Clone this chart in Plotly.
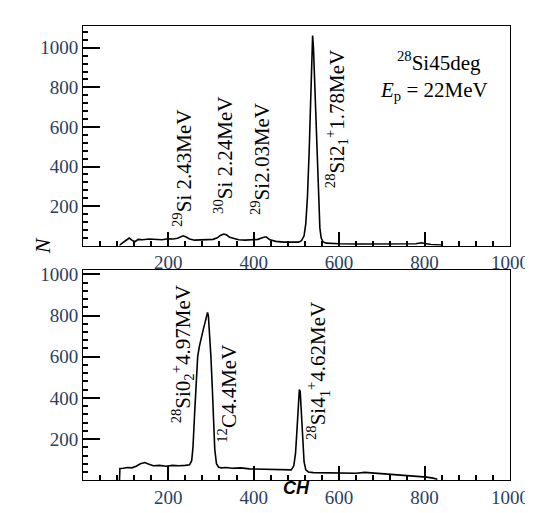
import plotly.graph_objects as go
from plotly.subplots import make_subplots

# ---- data ----
ch_top = [86, 90, 100, 109, 115, 122, 130, 140, 155, 170, 185, 200, 212, 222, 230, 235, 242, 250, 262, 275,
          290, 305, 315, 322, 330, 336, 344, 354, 365, 380, 395, 410, 420, 429, 438, 452, 470, 490, 505, 512,
          518, 522, 526, 530, 533, 536, 538, 540, 543, 546, 549, 552, 555, 558, 562, 570, 600, 650, 700, 750,
          780, 792, 800, 815, 840]
n_top = [0, 10, 25, 39, 28, 20, 32, 30, 34, 33, 30, 35, 34, 38, 45, 50, 44, 34, 28, 30,
         33, 32, 40, 52, 59, 55, 42, 35, 30, 28, 30, 32, 40, 45, 30, 22, 18, 18, 18, 25,
         50, 110, 250, 480, 720, 960, 1062, 1000, 820, 600, 380, 200, 90, 40, 20, 13, 10, 9, 8, 8,
         10, 15, 12, 6, 3]

ch_bot = [86, 87, 95, 105, 115, 125, 135, 145, 155, 165, 180, 195, 210, 225, 240, 250, 255, 258, 262, 266,
          269, 273, 278, 283, 288, 292, 294, 297, 300, 303, 306, 309, 313, 318, 325, 335, 350, 370, 390, 410,
          430, 450, 470, 482, 488, 494, 498, 501, 504, 507, 509, 512, 515, 518, 522, 528, 540, 560, 600, 640,
          660, 700, 740, 760, 775, 790, 805, 820, 830]
n_bot = [0, 57, 58, 62, 60, 68, 80, 86, 78, 70, 72, 68, 72, 70, 72, 75, 95, 160, 330, 500,
         600, 650, 700, 740, 780, 815, 800, 720, 600, 460, 300, 150, 80, 63, 60, 62, 58, 60, 55, 54,
         52, 50, 48, 50, 50, 70, 130, 230, 360, 440, 430, 320, 180, 90, 50, 40, 37, 36, 35, 34,
         38, 32, 28, 25, 22, 20, 15, 10, 5]

major_step = 200
minor_step = 40

SERIF = "Liberation Serif"

fig = make_subplots(rows=2, cols=1, vertical_spacing=0.05)
fig.add_trace(go.Scatter(x=ch_top, y=n_top, mode="lines", line=dict(color="black", width=1.6)),
              row=1, col=1)
fig.add_trace(go.Scatter(x=ch_bot, y=n_bot, mode="lines", line=dict(color="black", width=1.6)),
              row=2, col=1)

for ax in ["xaxis", "xaxis2", "yaxis", "yaxis2"]:
    is_x = ax.startswith("x")
    fig.layout[ax].update(
        ticks="inside", ticklen=14 if is_x else 17, tickcolor="black", tickwidth=2,
        showline=True, mirror=True, linecolor="black",
        tickmode="linear", tick0=0, dtick=major_step,
        tickfont=dict(family=SERIF, size=19),
        minor=dict(ticks="inside", ticklen=5, dtick=minor_step),
    )
fig.layout.xaxis.range = [0.6, 1000]
fig.layout.xaxis2.range = [0.6, 1000]
fig.layout.yaxis.update(range=[1, 1110], domain=[0.5165, 1.0])
fig.layout.yaxis2.update(range=[1, 1020], domain=[0.0, 0.462])

ann_font = dict(family=SERIF, size=21, color="black")
labels = [
    ("x", "y", 232, 392, "<sup>29</sup>Si 2.43MeV"),
    ("x", "y", 328, 458, "<sup>30</sup>Si 2.24MeV"),
    ("x", "y", 415, 438, "<sup>29</sup>Si2.03MeV"),
    ("x", "y", 593, 640, "<sup>28</sup>Si2<sub>1</sub><sup>+</sup>1.78MeV"),
    ("x2", "y2", 234, 610, "<sup>28</sup>Si0<sub>2</sub><sup>+</sup>4.97MeV"),
    ("x2", "y2", 340, 420, "<sup>12</sup>C4.4MeV"),
    ("x2", "y2", 550, 529, "<sup>28</sup>Si4<sub>1</sub><sup>+</sup>4.62MeV"),
]
for xr, yr, xv, yv, txt in labels:
    fig.add_annotation(x=xv, y=yv, xref=xr, yref=yr, text=txt, textangle=-90, showarrow=False,
                       font=ann_font)

fig.add_annotation(x=833, y=929, xref="x", yref="y", text="<sup>28</sup>Si45deg", showarrow=False,
                   font=ann_font)
fig.add_annotation(x=823, y=782, xref="x", yref="y", text="<i>E</i><sub>p</sub> = 22MeV", showarrow=False,
                   font=ann_font)

fig.add_annotation(x=-0.128, y=0.5165, xref="paper", yref="paper", text="<i>N</i>", textangle=-90,
                   showarrow=False, font=dict(family=SERIF, size=22, color="black"))
fig.add_annotation(x=0.499, y=-0.043, xref="paper", yref="paper", text="<b><i>CH</i></b>",
                   showarrow=False, font=dict(family="Liberation Sans", size=18, color="black"))

fig.update_layout(width=533, height=513, margin=dict(l=75, r=21, t=17, b=41),
                  plot_bgcolor="white", paper_bgcolor="white", showlegend=False)

fig.write_html("out.html")
